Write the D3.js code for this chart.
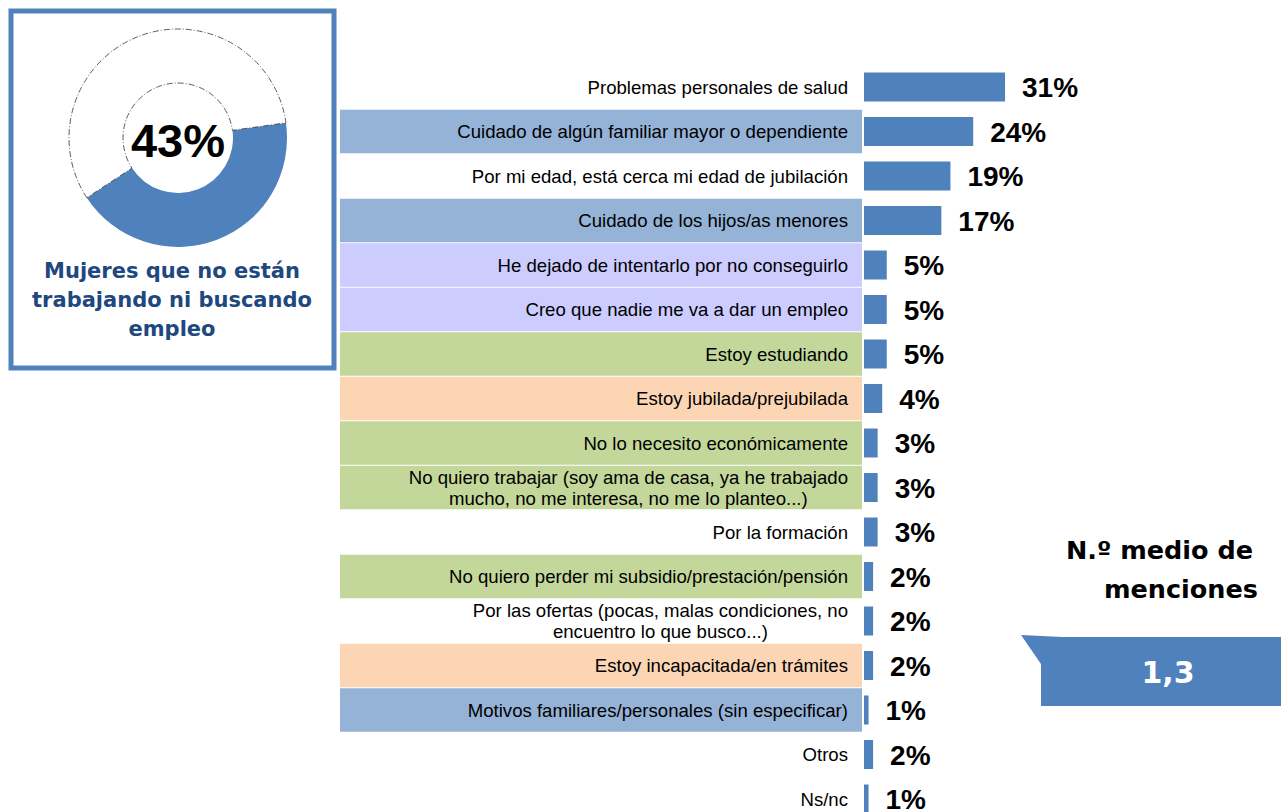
<!DOCTYPE html>
<html>
<head>
<meta charset="utf-8">
<script src="https://cdn.jsdelivr.net/npm/d3@7/dist/d3.min.js"></script>
<style>
  html, body { margin: 0; padding: 0; background: #fff; }
  svg { display: block; }
</style>
</head>
<body>
<svg id="chart" width="1281" height="812"></svg>
<script>
// Reasons for not working nor looking for a job (% of mentions)
const categories = [
  "Problemas personales de salud",
  "Cuidado de algún familiar mayor o dependiente",
  "Por mi edad, está cerca mi edad de jubilación",
  "Cuidado de los hijos/as menores",
  "He dejado de intentarlo por no conseguirlo",
  "Creo que nadie me va a dar un empleo",
  "Estoy estudiando",
  "Estoy jubilada/prejubilada",
  "No lo necesito económicamente",
  "No quiero trabajar (soy ama de casa, ya he trabajado|mucho, no me interesa, no me lo planteo...)",
  "Por la formación",
  "No quiero perder mi subsidio/prestación/pensión",
  "Por las ofertas (pocas, malas condiciones, no|encuentro lo que busco...)",
  "Estoy incapacitada/en trámites",
  "Motivos familiares/personales (sin especificar)",
  "Otros",
  "Ns/nc"
];
const values = [31, 24, 19, 17, 5, 5, 5, 4, 3, 3, 3, 2, 2, 2, 1, 2, 1];
// Thematic group of each reason (drives the row highlight)
const groups = ["none", "care", "none", "care", "discouraged", "discouraged", "choice",
  "retired", "choice", "choice", "none", "choice", "none", "retired", "care", "none", "none"];

// Share of women neither working nor seeking work
const donutValues = [43, 57];
const donutLabel = "43%";
const panelTitle = ["Mujeres que no están", "trabajando ni buscando", "empleo"];

// Average number of reasons mentioned
const meanTitle = ["N.º medio de", "menciones"];
const meanValue = "1,3";

const blue = "#4F81BD";
const groupFill = {
  none: "none",
  care: "#95B3D7",
  discouraged: "#CCCCFF",
  choice: "#C4D79B",
  retired: "#FCD5B5"
};

const svg = d3.select("#chart");

// ---------- Bar chart ----------
const y = d3.scaleBand()
  .domain(categories)
  .range([64.75, 64.75 + 17 * 44.5])
  .paddingInner(0);

const x = d3.scaleLinear()
  .domain([0, 100])
  .range([864, 864 + 455]);

const rows = svg.append("g").attr("class", "rows")
  .selectAll("g")
  .data(categories.map((c, i) => ({ c, v: values[i], g: groups[i] })))
  .join("g");

rows.append("rect")
  .attr("x", 340)
  .attr("y", d => y(d.c) + 0.5)
  .attr("width", 522)
  .attr("height", y.bandwidth() - 1)
  .attr("fill", d => groupFill[d.g]);

const barH = 29;
rows.append("rect")
  .attr("x", x(0))
  .attr("y", d => y(d.c) + y.bandwidth() / 2 - barH / 2)
  .attr("width", d => x(d.v) - x(0))
  .attr("height", barH)
  .attr("fill", blue);

rows.append("text")
  .attr("x", d => x(d.v) + 17)
  .attr("y", d => y(d.c) + y.bandwidth() / 2)
  .attr("dy", "0.36em")
  .attr("font-family", "'Liberation Sans', Arial, sans-serif")
  .attr("font-weight", "bold")
  .attr("font-size", 28)
  .attr("fill", "#000")
  .text(d => d.v + "%");

// Category labels: multi-line labels are centred as a block, block right-aligned
const labelRight = 848;
rows.each(function (d) {
  const g = d3.select(this);
  const lines = d.c.split("|");
  const cy = y(d.c) + y.bandwidth() / 2;
  const lh = 21;
  const t = g.append("text")
    .attr("font-family", "'Liberation Sans', Arial, sans-serif")
    .attr("font-size", 18.6)
    .attr("fill", "#000");
  const spans = lines.map((ln, k) => t.append("tspan")
    .attr("y", cy + (k - (lines.length - 1) / 2) * lh)
    .attr("dy", "0.36em")
    .text(ln));
  const widths = spans.map(s => s.node().getComputedTextLength());
  const maxW = d3.max(widths);
  spans.forEach(s => s.attr("x", labelRight - maxW / 2).attr("text-anchor", "middle"));
});

// ---------- Left panel: donut ----------
svg.append("rect")
  .attr("x", 11).attr("y", 11)
  .attr("width", 323).attr("height", 357)
  .attr("fill", "#fff")
  .attr("stroke", blue)
  .attr("stroke-width", 5);

const cx = 178, cy = 138;
const startA = 82 * Math.PI / 180;
const pie = d3.pie().sort(null).startAngle(startA).endAngle(startA + 2 * Math.PI);
const arc = d3.arc().innerRadius(55).outerRadius(109);
svg.append("g")
  .attr("transform", `translate(${cx},${cy})`)
  .selectAll("path")
  .data(pie(donutValues))
  .join("path")
  .attr("d", arc)
  .attr("fill", (d, i) => i === 0 ? blue : "#fff")
  .attr("stroke", (d, i) => i === 0 ? "none" : "#333")
  .attr("stroke-width", 0.8)
  .attr("stroke-dasharray", "6,2,1,2");

svg.append("text")
  .attr("x", cx).attr("y", cy + 2)
  .attr("dy", "0.36em")
  .attr("text-anchor", "middle")
  .attr("font-family", "'Liberation Sans', Arial, sans-serif")
  .attr("font-weight", "bold")
  .attr("font-size", 47)
  .attr("fill", "#000")
  .text(donutLabel);

svg.append("g").selectAll("text")
  .data(panelTitle)
  .join("text")
  .attr("x", 172)
  .attr("y", (d, i) => 270 + i * 29)
  .attr("dy", "0.36em")
  .attr("text-anchor", "middle")
  .attr("font-family", "'DejaVu Sans', sans-serif")
  .attr("font-weight", "bold")
  .attr("font-size", 21)
  .attr("fill", "#21487E")
  .text(d => d);

// ---------- Mean mentions callout ----------
svg.append("g").selectAll("text")
  .data(meanTitle)
  .join("text")
  .attr("x", (d, i) => i === 0 ? 1253 : 1258)
  .attr("y", (d, i) => 550 + i * 39)
  .attr("dy", "0.36em")
  .attr("text-anchor", "end")
  .attr("font-family", "'DejaVu Sans', sans-serif")
  .attr("font-weight", "bold")
  .attr("font-size", 25.5)
  .attr("fill", "#000")
  .text(d => d);

svg.append("path")
  .attr("d", "M1021,635 L1062,637 L1281,637 L1281,706 L1041,706 L1041,664 Z")
  .attr("fill", blue);

svg.append("text")
  .attr("x", 1168).attr("y", 672)
  .attr("dy", "0.36em")
  .attr("text-anchor", "middle")
  .attr("font-family", "'DejaVu Sans', sans-serif")
  .attr("font-weight", "bold")
  .attr("font-size", 30)
  .attr("fill", "#fff")
  .text(meanValue);
</script>
</body>
</html>
